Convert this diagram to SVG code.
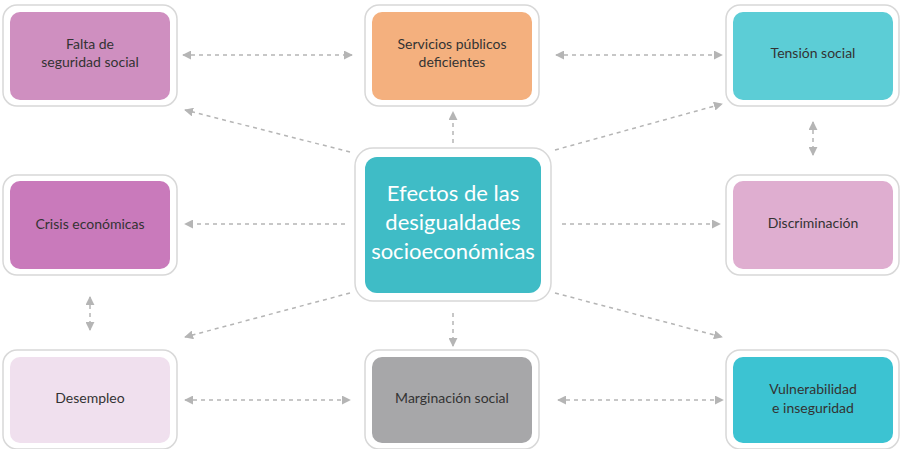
<svg xmlns="http://www.w3.org/2000/svg" width="900" height="449" viewBox="0 0 900 449">
<style>
.o{fill:#fff;stroke:#d8d8d8;stroke-width:1.5}
.t{font-family:Lato,"Noto Sans",sans-serif;font-size:14px;text-anchor:middle;fill:#333}
.c{stroke:#b5b5b5;stroke-width:1.5;stroke-dasharray:4 4;fill:none}
</style>
<defs>
<marker id="a" viewBox="0 0 10 10" refX="9" refY="5" markerWidth="9" markerHeight="9" markerUnits="userSpaceOnUse" orient="auto-start-reverse"><path d="M0,0L10,5L0,10z" fill="#b5b5b5"/></marker>
</defs>
<rect width="900" height="449" fill="#fff"/>
<g id="connectors">
<line class="c" x1="183" y1="55" x2="352" y2="55" marker-start="url(#a)" marker-end="url(#a)"/>
<line class="c" x1="556" y1="55" x2="722" y2="55" marker-start="url(#a)" marker-end="url(#a)"/>
<line class="c" x1="350" y1="152" x2="185" y2="110" marker-end="url(#a)"/>
<line class="c" x1="453" y1="143" x2="453" y2="112" marker-end="url(#a)"/>
<line class="c" x1="555" y1="150" x2="722" y2="104" marker-end="url(#a)"/>
<line class="c" x1="813" y1="122" x2="813" y2="155" marker-start="url(#a)" marker-end="url(#a)"/>
<line class="c" x1="345" y1="224" x2="185" y2="224" marker-end="url(#a)"/>
<line class="c" x1="562" y1="224" x2="720" y2="224" marker-end="url(#a)"/>
<line class="c" x1="90" y1="297" x2="90" y2="330" marker-start="url(#a)" marker-end="url(#a)"/>
<line class="c" x1="350" y1="293" x2="185" y2="337" marker-end="url(#a)"/>
<line class="c" x1="453" y1="313" x2="453" y2="346" marker-end="url(#a)"/>
<line class="c" x1="555" y1="293" x2="722" y2="337" marker-end="url(#a)"/>
<line class="c" x1="185" y1="400" x2="350" y2="400" marker-start="url(#a)" marker-end="url(#a)"/>
<line class="c" x1="558" y1="400" x2="723" y2="400" marker-start="url(#a)" marker-end="url(#a)"/>
</g>
<g id="falta"><rect class="o" x="3" y="5" width="174" height="101" rx="14"/><rect x="10" y="12" width="160" height="88" rx="10" fill="#cf8fc0"/><text class="t" x="90" y="49" fill="#3b2a3a">Falta de</text><text class="t" x="90" y="67">seguridad social</text></g>
<g id="servicios"><rect class="o" x="365" y="5" width="174" height="101" rx="14"/><rect x="372" y="12" width="160" height="88" rx="10" fill="#f4b07e"/><text class="t" x="452" y="49">Servicios públicos</text><text class="t" x="452" y="67">deficientes</text></g>
<g id="tension"><rect class="o" x="726" y="5" width="173" height="101" rx="14"/><rect x="733" y="12" width="160" height="88" rx="10" fill="#5ccdd6"/><text class="t" x="813" y="58">Tensión social</text></g>
<g id="crisis"><rect class="o" x="3" y="175" width="174" height="100" rx="14"/><rect x="10" y="181" width="160" height="88" rx="10" fill="#c97abb"/><text class="t" x="90" y="229">Crisis económicas</text></g>
<g id="centro"><rect class="o" x="355" y="148" width="196" height="153" rx="18"/><rect x="365" y="157" width="176" height="136" rx="12" fill="#3fbcc6"/><text class="t" x="453" y="201" style="font-size:22px;fill:#fff">Efectos de las</text><text class="t" x="453" y="230" style="font-size:22px;fill:#fff">desigualdades</text><text class="t" x="453" y="259" style="font-size:22px;fill:#fff">socioeconómicas</text></g>
<g id="discriminacion"><rect class="o" x="726" y="175" width="173" height="100" rx="14"/><rect x="733" y="181" width="160" height="88" rx="10" fill="#dfaed0"/><text class="t" x="813" y="228">Discriminación</text></g>
<g id="desempleo"><rect class="o" x="3" y="350" width="174" height="99" rx="14"/><rect x="10" y="357" width="160" height="86" rx="10" fill="#f0e0ee"/><text class="t" x="90" y="403">Desempleo</text></g>
<g id="marginacion"><rect class="o" x="365" y="350" width="174" height="99" rx="14"/><rect x="372" y="357" width="160" height="86" rx="10" fill="#a7a7a9"/><text class="t" x="452" y="403">Marginación social</text></g>
<g id="vulnerabilidad"><rect class="o" x="726" y="350" width="173" height="99" rx="14"/><rect x="733" y="357" width="160" height="86" rx="10" fill="#3cc3d2"/><text class="t" x="813" y="394">Vulnerabilidad</text><text class="t" x="813" y="413">e inseguridad</text></g>
</svg>
